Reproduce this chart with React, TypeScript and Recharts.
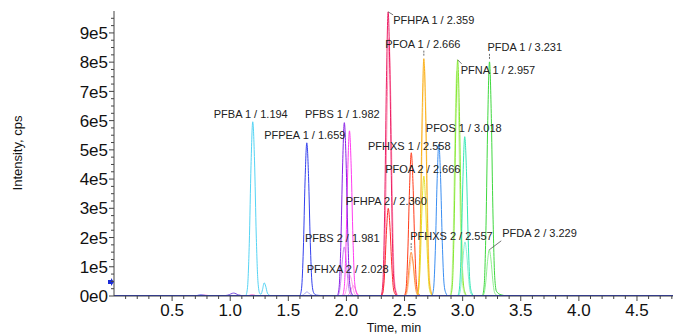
import { LineChart, Line, XAxis, YAxis, ReferenceDot, Label } from 'recharts';

type Pt = [number, number];

// retention time (min) / intensity (cps)
const bumpA: Pt[] = [[0.7, 0], [0.75, 4000], [0.8, 0]];
const bumpB: Pt[] = [[0.73, 0], [0.78, 3000], [0.83, 0]];
const bumpC: Pt[] = [[0.93, 0], [0.98, 3000], [1.03, 10000], [1.07, 4000], [1.12, 0]];
const bumpD: Pt[] = [[1.15, 0], [1.19, 4000], [1.23, 0]];

const pfba1: Pt[] = [[1.134, 0], [1.149, 29800], [1.164, 178800], [1.179, 447000], [1.194, 596000], [1.209, 464900], [1.224, 208600], [1.239, 47700], [1.254, 9000], [1.265, 6000], [1.278, 22000], [1.292, 45000], [1.305, 34000], [1.32, 10000], [1.34, 2000], [1.36, 0]];
const pfpea1: Pt[] = [[1.599, 0], [1.614, 26200], [1.629, 157200], [1.644, 393000], [1.659, 524000], [1.674, 408700], [1.689, 183400], [1.704, 41900], [1.719, 10500], [1.74, 3000], [1.78, 1500], [1.8, 0]];
const pfpea2: Pt[] = [[1.6, 0], [1.63, 4000], [1.66, 14000], [1.69, 5000], [1.73, 0]];
const pfbs1: Pt[] = [[1.922, 0], [1.937, 29650], [1.952, 177900], [1.967, 444750], [1.982, 593000], [1.997, 462540], [2.012, 207550], [2.027, 47440], [2.042, 11860], [2.062, 0]];
const pfbs2: Pt[] = [[1.921, 0], [1.936, 8400], [1.951, 50400], [1.966, 126000], [1.981, 168000], [1.996, 131040], [2.011, 58800], [2.026, 13440], [2.041, 3360], [2.061, 0]];
const pfhxa1: Pt[] = [[1.966, 0], [1.981, 28250], [1.996, 169500], [2.011, 423750], [2.026, 565000], [2.041, 440700], [2.056, 197750], [2.071, 45200], [2.086, 11300], [2.106, 0]];
const pfhxa2: Pt[] = [[1.968, 0], [1.983, 3600], [1.998, 21600], [2.013, 54000], [2.028, 72000], [2.043, 56160], [2.058, 25200], [2.073, 5760], [2.088, 1440], [2.108, 0]];
const pinkExtra: Pt[] = [[2.0, 0], [2.03, 10000], [2.045, 26000], [2.06, 35000], [2.075, 27000], [2.09, 10000], [2.12, 0]];
const pfhpa1: Pt[] = [[2.299, 0], [2.314, 48600], [2.329, 291600], [2.344, 729000], [2.359, 972000], [2.374, 758160], [2.389, 340200], [2.404, 77760], [2.419, 19440], [2.439, 0]];
const pfhpa1b: Pt[] = [[2.306, 0], [2.321, 44000], [2.336, 264000], [2.351, 660000], [2.366, 880000], [2.381, 686400], [2.396, 308000], [2.411, 70400], [2.426, 17600], [2.446, 0]];
const pfhpa2: Pt[] = [[2.3, 0], [2.315, 15000], [2.33, 90000], [2.345, 225000], [2.36, 300000], [2.375, 234000], [2.39, 105000], [2.405, 24000], [2.42, 6000], [2.44, 0]];
const pfhxs1: Pt[] = [[2.498, 0], [2.513, 24500], [2.528, 147000], [2.543, 367500], [2.558, 490000], [2.573, 382200], [2.588, 171500], [2.603, 39200], [2.618, 9800], [2.638, 0]];
const pfhxs2: Pt[] = [[2.497, 0], [2.512, 7500], [2.527, 45000], [2.542, 112500], [2.557, 150000], [2.572, 117000], [2.587, 52500], [2.602, 12000], [2.617, 3000], [2.637, 0]];
const pfhxs2b: Pt[] = [[2.503, 0], [2.518, 6750], [2.533, 40500], [2.548, 101250], [2.563, 135000], [2.578, 105300], [2.593, 47250], [2.608, 10800], [2.623, 2700], [2.643, 0]];
const pfoa1: Pt[] = [[2.606, 0], [2.621, 40600], [2.636, 243600], [2.651, 609000], [2.666, 812000], [2.681, 633360], [2.696, 284200], [2.711, 64960], [2.726, 16240], [2.746, 0]];
const pfoa1b: Pt[] = [[2.61, 0], [2.625, 39500], [2.64, 237000], [2.655, 592500], [2.67, 790000], [2.685, 616200], [2.7, 276500], [2.715, 63200], [2.73, 15800], [2.75, 0]];
const pfoa2: Pt[] = [[2.606, 0], [2.621, 20500], [2.636, 123000], [2.651, 307500], [2.666, 410000], [2.681, 319800], [2.696, 143500], [2.711, 32800], [2.726, 8200], [2.746, 0]];
const bluePeak: Pt[] = [[2.735, 0], [2.75, 26000], [2.765, 156000], [2.78, 390000], [2.795, 520000], [2.81, 405600], [2.825, 182000], [2.84, 41600], [2.855, 10400], [2.875, 0]];
const pfna1: Pt[] = [[2.897, 0], [2.912, 40400], [2.927, 242400], [2.942, 606000], [2.957, 808000], [2.972, 630240], [2.987, 282800], [3.002, 64640], [3.017, 16160], [3.037, 0]];
const pfna1b: Pt[] = [[2.89, 0], [2.905, 38500], [2.92, 231000], [2.935, 577500], [2.95, 770000], [2.965, 600600], [2.98, 269500], [2.995, 61600], [3.01, 15400], [3.03, 0]];
const pfos1: Pt[] = [[2.958, 0], [2.973, 27250], [2.988, 163500], [3.003, 408750], [3.018, 545000], [3.033, 425100], [3.048, 190750], [3.063, 43600], [3.078, 10900], [3.098, 0]];
const pfos2: Pt[] = [[2.96, 0], [2.975, 9250], [2.99, 55500], [3.005, 138750], [3.02, 185000], [3.035, 144300], [3.05, 64750], [3.065, 14800], [3.08, 3700], [3.1, 0]];
const pfda1: Pt[] = [[3.171, 0], [3.186, 40050], [3.201, 240300], [3.216, 600750], [3.231, 801000], [3.246, 624780], [3.261, 280350], [3.276, 64080], [3.291, 16020], [3.33, 4000], [3.39, 0]];
const pfda2: Pt[] = [[3.169, 0], [3.184, 7900], [3.199, 47400], [3.214, 118500], [3.229, 158000], [3.244, 123240], [3.259, 55300], [3.274, 12640], [3.289, 3160], [3.309, 0]];
const baseline: Pt[] = [[0, 0], [4.81, 0]];

const peakLabelTexts = [
  'PFBA 1 / 1.194', 'PFPEA 1 / 1.659', 'PFBS 1 / 1.982', 'PFHPA 1 / 2.359', 'PFOA 1 / 2.666',
  'PFNA 1 / 2.957', 'PFDA 1 / 3.231', 'PFOS 1 / 3.018', 'PFHXS 1 / 2.558', 'PFOA 2 / 2.666',
  'PFHPA 2 / 2.360', 'PFBS 2 / 1.981', 'PFHXA 2 / 2.028', 'PFHXS 2 / 2.557', 'PFDA 2 / 3.229',
];
const peakLabelAt: Pt[] = [
  [1.194, 596000], [1.659, 524000], [1.982, 593000], [2.359, 972000], [2.666, 812000],
  [2.957, 808000], [3.231, 801000], [3.018, 545000], [2.558, 490000], [2.666, 410000],
  [2.36, 300000], [1.981, 168000], [2.028, 72000], [2.557, 150000], [3.229, 158000],
];

const xMajorTicks = [0.5, 1.0, 1.5, 2.0, 2.5, 3.0, 3.5, 4.0, 4.5];
const xTicks = Array.from({ length: 48 }, (_, i) => (i + 1) / 10);
const yMajorTicks = [0, 100000, 200000, 300000, 400000, 500000, 600000, 700000, 800000, 900000];
const yTicks = Array.from({ length: 39 }, (_, i) => i * 25000);

const traces = [
  { key: 'bumpA', pts: bumpA, color: '#5a5af0' },
  { key: 'bumpB', pts: bumpB, color: '#f070c8' },
  { key: 'bumpC', pts: bumpC, color: '#7a50e0' },
  { key: 'bumpD', pts: bumpD, color: '#ff60c8' },
  { key: 'pfpea2', pts: pfpea2, color: '#a8a8f5' },
  { key: 'pfba1', pts: pfba1, color: '#55d4f4' },
  { key: 'pfpea1', pts: pfpea1, color: '#3340ee' },
  { key: 'pfbs2', pts: pfbs2, color: '#c685f2' },
  { key: 'pinkExtra', pts: pinkExtra, color: '#ff8ad8' },
  { key: 'pfhxa2', pts: pfhxa2, color: '#ffa0ea' },
  { key: 'pfhxa1', pts: pfhxa1, color: '#ff3cf0' },
  { key: 'pfbs1', pts: pfbs1, color: '#8a20e6' },
  { key: 'pfhpa1b', pts: pfhpa1b, color: '#ff90b4' },
  { key: 'pfhpa2', pts: pfhpa2, color: '#ff2a2a' },
  { key: 'pfhpa1', pts: pfhpa1, color: '#ec1e64' },
  { key: 'pfhxs2b', pts: pfhxs2b, color: '#ffc49a' },
  { key: 'pfhxs2', pts: pfhxs2, color: '#ff9040' },
  { key: 'pfhxs1', pts: pfhxs1, color: '#ff3a18' },
  { key: 'pfoa1b', pts: pfoa1b, color: '#ffe0a4' },
  { key: 'pfoa2', pts: pfoa2, color: '#e2e22a' },
  { key: 'pfoa1', pts: pfoa1, color: '#fbb21e' },
  { key: 'bluePeak', pts: bluePeak, color: '#3a8ef2' },
  { key: 'pfna1b', pts: pfna1b, color: '#c4f59a' },
  { key: 'pfna1', pts: pfna1, color: '#84e830' },
  { key: 'pfos2', pts: pfos2, color: '#86f0d6' },
  { key: 'pfos1', pts: pfos1, color: '#34e8b4' },
  { key: 'pfda2', pts: pfda2, color: '#8ef08e' },
  { key: 'pfda1', pts: pfda1, color: '#3ed83e' },
];

// label placement relative to the peak apex: anchor, dx, dy (text baseline), mark
const labelLayout: { anchor: 'start' | 'middle'; dx: number; dy: number; mark?: 'lead' | 'tick'; lx?: number; ly?: number }[] = [
  { anchor: 'middle', dx: -2, dy: -4 },
  { anchor: 'middle', dx: -2, dy: -4 },
  { anchor: 'middle', dx: -2, dy: -5 },
  { anchor: 'start', dx: 5, dy: 12, mark: 'lead', lx: 5, ly: 3 },
  { anchor: 'middle', dx: -1, dy: -11, mark: 'tick' },
  { anchor: 'start', dx: 3, dy: 14, mark: 'lead', lx: 4, ly: 4 },
  { anchor: 'start', dx: -2, dy: -11, mark: 'tick' },
  { anchor: 'middle', dx: -1, dy: -5 },
  { anchor: 'middle', dx: -2, dy: -3 },
  { anchor: 'middle', dx: -1, dy: -3 },
  { anchor: 'middle', dx: -2, dy: -3 },
  { anchor: 'middle', dx: -2, dy: -5 },
  { anchor: 'middle', dx: -2, dy: -2 },
  { anchor: 'start', dx: -1, dy: -12, mark: 'tick' },
  { anchor: 'start', dx: 13, dy: -13, mark: 'lead', lx: 12, ly: -9 },
];

const FONT = "Arial, 'Liberation Sans', sans-serif";

const toRows = (pts: Pt[]) => pts.map(([t, v]) => ({ t, v }));

const XTick = ({ x, y, payload }: any) => {
  const v = payload.value;
  const major = xMajorTicks.some((m) => Math.abs(m - v) < 1e-6);
  return (
    <g>
      <line x1={x} x2={x} y1={y} y2={y + (major ? 5 : 3)} stroke="#444" />
      {major && (
        <text x={x} y={y + 20} textAnchor="middle" fontSize={17} fontFamily={FONT} fill="#111">
          {v.toFixed(1)}
        </text>
      )}
    </g>
  );
};

const YTick = ({ x, y, payload }: any) => {
  const v = payload.value;
  const major = yMajorTicks.includes(v);
  return (
    <g>
      <line x1={x - (major ? 5 : 3)} x2={x} y1={y} y2={y} stroke="#444" />
      {major && (
        <text x={x - 6} y={y} dy="0.36em" textAnchor="end" fontSize={17} fontFamily={FONT} fill="#111">
          {v === 0 ? '0e0' : `${v / 100000}e5`}
        </text>
      )}
    </g>
  );
};

const PeakTag = ({ cx, cy, text, lay }: any) => (
  <g>
    {lay.mark === 'lead' && <line x1={cx} y1={cy} x2={cx + lay.lx} y2={cy + lay.ly} stroke="#555" strokeWidth={0.8} />}
    {lay.mark === 'tick' && (
      <line x1={cx} y1={cy + lay.dy + 3} x2={cx} y2={cy - 2} stroke="#444" strokeWidth={0.8} strokeDasharray="2 1" />
    )}
    <text x={cx + lay.dx} y={cy + lay.dy} textAnchor={lay.anchor} fontSize={11} fontFamily={FONT} fill="#222">
      {text}
    </text>
  </g>
);

const Marker = ({ cx, cy }: any) => (
  <polygon
    points={`${cx - 6},${cy - 2} ${cx - 3},${cy - 2} ${cx - 3},${cy - 4} ${cx},${cy} ${cx - 3},${cy + 4} ${cx - 3},${cy + 2} ${cx - 6},${cy + 2}`}
    fill="#1a2ad8"
  />
);

export default function App() {
  return (
    <div style={{ position: 'absolute', left: 0, top: 0, width: 673, height: 335, background: '#fff' }}>
      <LineChart width={673} height={335} margin={{ top: 11, right: 0, bottom: 0, left: 0 }}>
        <XAxis
          type="number"
          dataKey="t"
          domain={[0, 4.81]}
          allowDataOverflow
          ticks={xTicks}
          interval={0}
          tick={<XTick />}
          tickLine={false}
          tickSize={0}
          tickMargin={0}
          height={39}
          axisLine={{ stroke: '#444' }}
        >
          <Label
            content={() => (
              <text x={394} y={332} textAnchor="middle" fontSize={12.5} fontFamily={FONT} fill="#111">
                Time, min
              </text>
            )}
          />
        </XAxis>
        <YAxis
          type="number"
          dataKey="v"
          domain={[0, 975000]}
          allowDataOverflow
          ticks={yTicks}
          interval={0}
          tick={<YTick />}
          tickLine={false}
          tickSize={0}
          tickMargin={0}
          width={114}
          axisLine={{ stroke: '#444' }}
        >
          <Label
            content={() => (
              <text x={17} y={153} transform="rotate(-90 17 153)" textAnchor="middle" dominantBaseline="central" fontSize={13} fontFamily={FONT} fill="#111">
                Intensity, cps
              </text>
            )}
          />
        </YAxis>
        {traces.map((tr) => (
          <Line
            key={tr.key}
            data={toRows(tr.pts)}
            dataKey="v"
            type="monotone"
            stroke={tr.color}
            strokeWidth={1}
            dot={false}
            activeDot={false}
            isAnimationActive={false}
          />
        ))}
        <Line
          data={toRows(baseline)}
          dataKey="v"
          type="linear"
          stroke="#2233cc"
          strokeWidth={2}
          dot={false}
          activeDot={false}
          isAnimationActive={false}
        />
        {peakLabelTexts.map((txt, i) => (
          <ReferenceDot
            key={txt}
            x={peakLabelAt[i][0]}
            y={peakLabelAt[i][1]}
            r={0}
            ifOverflow="visible"
            shape={(p: any) => <PeakTag cx={p.cx} cy={p.cy} text={txt} lay={labelLayout[i]} />}
          />
        ))}
        <ReferenceDot x={0} y={48000} r={0} ifOverflow="visible" shape={(p: any) => <Marker cx={p.cx} cy={p.cy} />} />
      </LineChart>
    </div>
  );
}
